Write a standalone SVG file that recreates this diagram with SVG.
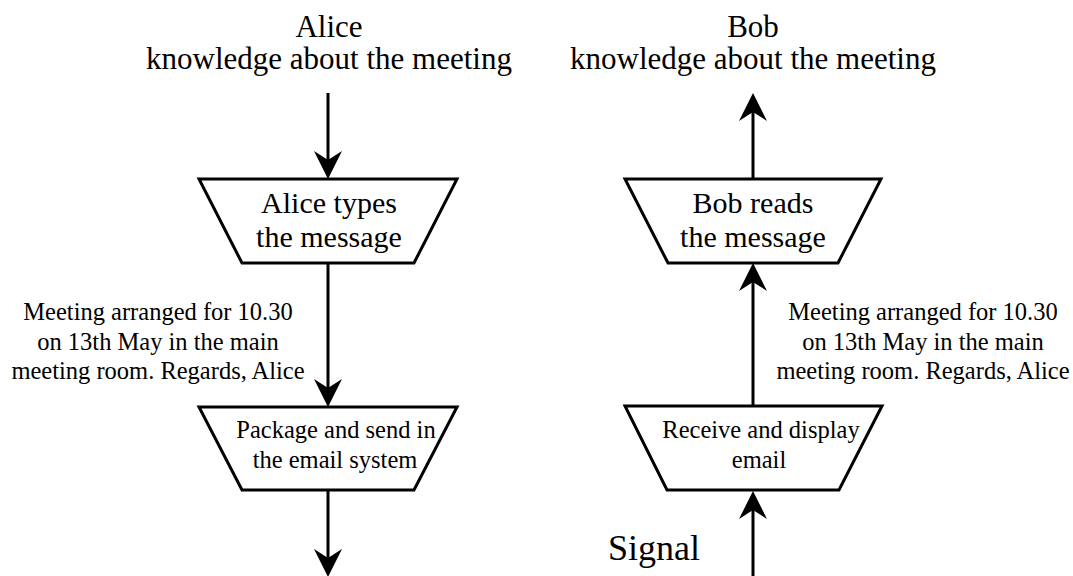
<svg xmlns="http://www.w3.org/2000/svg" width="1073" height="576" viewBox="0 0 1073 576">
<style>
text{fill:#000;text-anchor:middle}
.hd{font-size:31px}
.big{font-size:30px}
.sm{font-size:24.5px}
.sig{font-size:36px}
.shape{fill:#fff;stroke:#000;stroke-width:3;stroke-linejoin:miter}
.conn{stroke:#000;stroke-width:3;fill:none;marker-end:url(#ah)}
</style>
<defs>
<marker id="ah" markerUnits="userSpaceOnUse" viewBox="0 -14 30 28" refX="18" refY="0" markerWidth="30" markerHeight="28" orient="auto">
<path d="M28,0 L0,-14 L9,0 L0,14 Z" fill="#000"/>
</marker>
</defs>
<rect width="1073" height="576" fill="#fff"/>
<g font-family="Liberation Serif, Times New Roman, serif">
<g id="alice-header">
<text class="hd" x="329" y="37">Alice</text>
<text class="hd" x="329" y="69">knowledge about the meeting</text>
</g>
<g id="bob-header">
<text class="hd" x="753" y="37">Bob</text>
<text class="hd" x="753" y="69">knowledge about the meeting</text>
</g>
<g id="connectors">
<line class="conn" x1="328" y1="93" x2="328" y2="169"/>
<line class="conn" x1="328" y1="263" x2="328" y2="397"/>
<line class="conn" x1="328" y1="490" x2="328" y2="567"/>
<line class="conn" x1="753" y1="179" x2="753" y2="103"/>
<line class="conn" x1="753" y1="406" x2="753" y2="273"/>
<line class="conn" x1="753" y1="576" x2="753" y2="501"/>
</g>
<g id="alice-types">
<polygon class="shape" points="199,179 457,179 414,263 242,263"/>
<text class="big" x="329" y="213">Alice types</text>
<text class="big" x="329" y="247">the message</text>
</g>
<g id="package-send">
<polygon class="shape" points="199,407 457,407 414,490 242,490"/>
<text class="sm" x="336" y="438">Package and send in</text>
<text class="sm" x="335" y="468">the email system</text>
</g>
<g id="bob-reads">
<polygon class="shape" points="625,179 881,179 838,263 668,263"/>
<text class="big" x="753" y="213">Bob reads</text>
<text class="big" x="753" y="247">the message</text>
</g>
<g id="receive-display">
<polygon class="shape" points="625,406 882,406 839,490 667,490"/>
<text class="sm" x="761" y="438">Receive and display</text>
<text class="sm" x="759" y="468">email</text>
</g>
<g id="label-left">
<text class="sm" x="158" y="320">Meeting arranged for 10.30</text>
<text class="sm" x="158" y="350">on 13th May in the main</text>
<text class="sm" x="158" y="379">meeting room. Regards, Alice</text>
</g>
<g id="label-right">
<text class="sm" x="923" y="320">Meeting arranged for 10.30</text>
<text class="sm" x="923" y="350">on 13th May in the main</text>
<text class="sm" x="923" y="379">meeting room. Regards, Alice</text>
</g>
<g id="signal">
<text class="sig" x="654" y="560">Signal</text>
</g>
</g>
</svg>
